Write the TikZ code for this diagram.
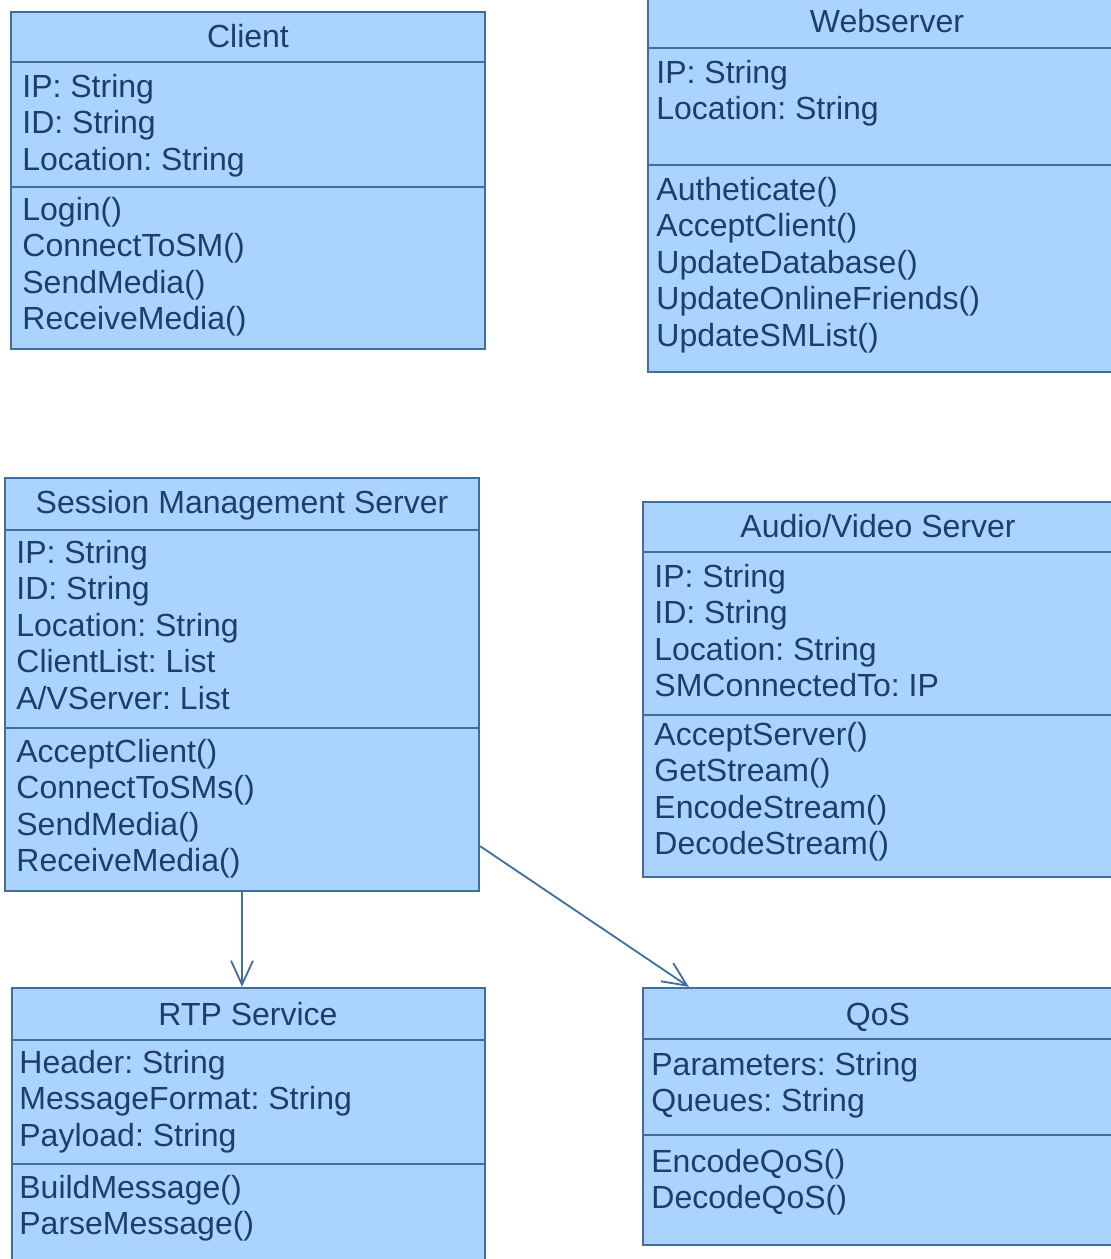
\documentclass[tikz,border=0pt]{standalone}
\usepackage{fontspec}
\setmainfont{Liberation Sans}
\usetikzlibrary{fit,arrows.meta}
\definecolor{cls}{HTML}{AAD4FD}
\definecolor{edge}{HTML}{3F6E9F}
\definecolor{ink}{HTML}{1D3E6B}

\begin{document}
\begin{tikzpicture}[x=0.5pt, y=-0.5pt, font=\fontsize{16}{18}\selectfont\frenchspacing, text=ink,
  classbox/.style={draw=edge, fill=cls, line width=1.2pt, inner sep=0pt},
  rule/.style={draw=edge, line width=1.2pt},
  title/.style={anchor=base, inner sep=0pt},
  member/.style={anchor=base west, inner sep=0pt},
  assoc/.style={draw=edge, line width=0.9pt, -{Straight Barb[length=12pt, width=11pt]}}]
\path[use as bounding box, fill=white] (0,0) rectangle (1111,1259);
\clip (0,0) rectangle (1111,1259);
\newcommand{\umlbox}[7]{% name, left, top, right, bottom, title rule, attribute rule
  \node[classbox, fit={(#2,#3) (#4,#5)}] (#1) {};
  \draw[rule] (#2,#6) -- (#4,#6);
  \draw[rule] (#2,#7) -- (#4,#7);}
\newcommand{\members}[4]{% name, x, first baseline, entries
  \foreach \entry [count=\i from 0] in {#4} \node[member] (#1\i) at (#2,{#3+36.6*\i}) {\entry};}
% top row
\umlbox{client}{11}{12}{485}{349}{62}{187}
\node[title] (client-t) at (248,47) {Client};
\members{client-a}{22}{97}{IP: String,ID: String,Location: String}
\members{client-m}{22}{220}{Login(),ConnectToSM(),SendMedia(),ReceiveMedia()}
\umlbox{web}{648}{-10}{1126}{372}{48}{165}
\node[title] (web-t) at (887,32) {Webserver};
\members{web-a}{656}{83}{IP: String,Location: String}
\members{web-m}{656}{200}{Autheticate(),AcceptClient(),UpdateDatabase(),UpdateOnlineFriends(),UpdateSMList()}
% middle row
\umlbox{sms}{5}{478}{479}{891}{530}{728}
\node[title] (sms-t) at (242,513) {Session Management Server};
\members{sms-a}{16}{563}{IP: String,ID: String,Location: String,ClientList: List,A/VServer: List}
\members{sms-m}{16}{762}{AcceptClient(),ConnectToSMs(),SendMedia(),ReceiveMedia()}
\umlbox{av}{643}{502}{1113}{877}{552}{715}
\node[title] (av-t) at (878,537) {Audio/Video Server};
\members{av-a}{654}{587}{IP: String,ID: String,Location: String,SMConnectedTo: IP}
\members{av-m}{654}{745}{AcceptServer(),GetStream(),EncodeStream(),DecodeStream()}
% bottom row
\umlbox{rtp}{12}{988}{485}{1275}{1040}{1164}
\node[title] (rtp-t) at (248,1025) {RTP Service};
\members{rtp-a}{19}{1073}{Header: String,MessageFormat: String,Payload: String}
\members{rtp-m}{19}{1198}{BuildMessage(),ParseMessage()}
\umlbox{qos}{643}{988}{1113}{1245}{1039}{1135}
\node[title] (qos-t) at (878,1025) {QoS};
\members{qos-a}{651}{1075}{Parameters: String,Queues: String}
\members{qos-m}{651}{1172}{EncodeQoS(),DecodeQoS()}
% associations
\draw[assoc] (sms.south) -- (sms.south |- rtp.north);
\draw[assoc] ([yshift=23pt]sms.south east) -- ([xshift=23.5pt]qos.north west);
\end{tikzpicture}
\end{document}
